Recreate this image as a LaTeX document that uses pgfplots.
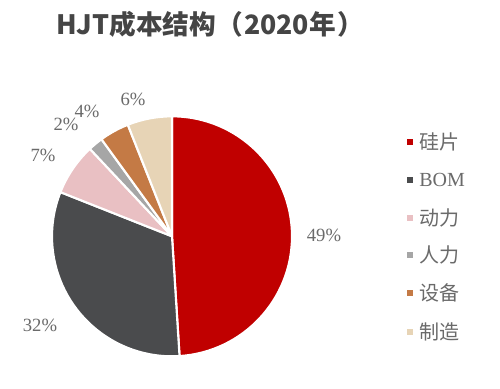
\documentclass[border=0pt]{standalone}
\usepackage{pgfplots}
\pgfplotsset{compat=1.18}
\usepackage{fontspec}
\setmainfont{Liberation Serif}
\newfontfamily\cjk{Noto Sans CJK SC}
\definecolor{cA}{HTML}{C00000}
\definecolor{cB}{HTML}{4A4B4D}
\definecolor{cC}{HTML}{E9C0C3}
\definecolor{cD}{HTML}{A6A6A6}
\definecolor{cE}{HTML}{C47A45}
\definecolor{cF}{HTML}{E7D4B6}
\definecolor{txt}{HTML}{6A6A6A}
\definecolor{ttl}{HTML}{454545}
\tikzset{legtxt/.style={anchor=west, text=txt, font=\fontsize{15}{15}\selectfont, inner sep=0pt}}
\begin{document}
\begin{tikzpicture}
\begin{axis}[
  width=375pt, height=291pt, scale only axis,
  xmin=0, xmax=500, ymin=0, ymax=388,
  hide axis, clip=false,
]
\path (axis cs:0,0) rectangle (axis cs:500,388);
% pie: start percent / value / colour
\foreach \st/\v/\c in {0/49/cA, 49/32/cB, 81/7/cC, 88/2/cD, 90/4/cE, 94/6/cF}{
  \pgfmathsetmacro\sa{90-3.6*\st}
  \pgfmathsetmacro\ea{90-3.6*(\st+\v)}
  \edef\temp{\noexpand\fill[\c, draw=white, line width=1.6pt, line join=round]
    (axis cs:172,152) -- ++(\sa:90pt) arc[start angle=\sa, end angle=\ea, radius=90pt] -- cycle;}
  \temp
}
% percent labels
\begin{scope}[every node/.style={text=txt, font=\fontsize{14}{14}\selectfont, inner sep=0pt}]
\node at (axis cs:324,153) {49\%};
\node at (axis cs:40,63) {32\%};
\node at (axis cs:43,233) {7\%};
\node at (axis cs:66,264) {2\%};
\node at (axis cs:87,277) {4\%};
\node at (axis cs:133,289) {6\%};
\end{scope}
% title
\node[text=ttl, font=\cjk\bfseries\fontsize{20}{21}\selectfont, inner sep=0pt] at (axis cs:210,364) {HJT成本结构（\kern1pt2020年\kern1pt）};
% legend
\foreach \y/\c/\t in {246.3/cA/{\cjk 硅片}, 208/cB/{BOM}, 170.3/cC/{\cjk 动力}, 133/cD/{\cjk 人力}, 95/cE/{\cjk 设备}, 56.3/cF/{\cjk 制造}}{
  \edef\temp{\noexpand\fill[\c] ([xshift=-2.3pt,yshift=-2.3pt]axis cs:410,\y) rectangle ++(4.6pt,4.6pt);
    \noexpand\node[legtxt] at (axis cs:419,\y) {\unexpanded\expandafter{\t}};}
  \temp
}
\end{axis}
\end{tikzpicture}
\end{document}
